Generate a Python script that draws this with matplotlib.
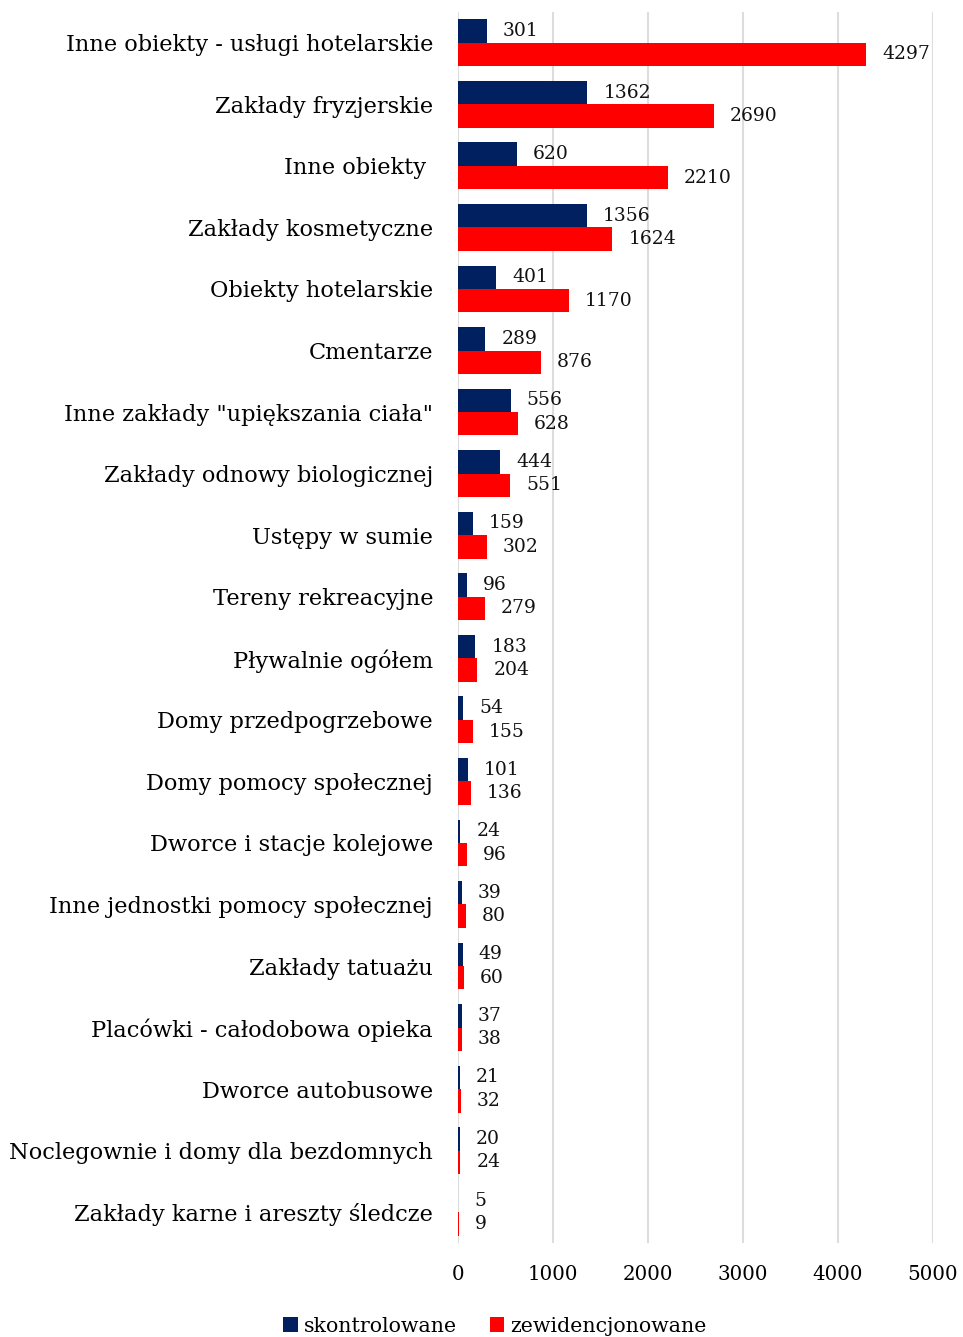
"""
Obiekty skontrolowane i zewidencjonowane - wykres slupkowy poziomy
"""

import numpy as np
import matplotlib.pyplot as plt

plt.rcParams['font.family'] = ['DejaVu Serif']

categories = [
    "Inne obiekty - usługi hotelarskie",
    "Zakłady fryzjerskie",
    "Inne obiekty ",
    "Zakłady kosmetyczne",
    "Obiekty hotelarskie",
    "Cmentarze",
    "Inne zakłady \"upiększania ciała\"",
    "Zakłady odnowy biologicznej",
    "Ustępy w sumie",
    "Tereny rekreacyjne",
    "Pływalnie ogółem",
    "Domy przedpogrzebowe",
    "Domy pomocy społecznej",
    "Dworce i stacje kolejowe",
    "Inne jednostki pomocy społecznej",
    "Zakłady tatuażu",
    "Placówki - całodobowa opieka",
    "Dworce autobusowe",
    "Noclegownie i domy dla bezdomnych",
    "Zakłady karne i areszty śledcze",
]
skontrolowane = [301, 1362, 620, 1356, 401, 289, 556, 444, 159, 96,
                 183, 54, 101, 24, 39, 49, 37, 21, 20, 5]
zewidencjonowane = [4297, 2690, 2210, 1624, 1170, 876, 628, 551, 302, 279,
                    204, 155, 136, 96, 80, 60, 38, 32, 24, 9]
xticks = [0, 1000, 2000, 3000, 4000, 5000]

blue = "#002060"
red = "#FF0000"

fig = plt.figure(figsize=(9.63, 13.37), dpi=100)
ax = fig.add_axes([458/963, 1 - 1243/1337, 475/963, 1231/1337])

y = np.arange(len(categories))
h = 0.38
ax.barh(y - h/2, skontrolowane, height=h, color=blue, label="skontrolowane", zorder=3)
ax.barh(y + h/2, zewidencjonowane, height=h, color=red, label="zewidencjonowane", zorder=3)

for yi, v in zip(y, skontrolowane):
    ax.annotate(str(v), (v, yi - h/2), xytext=(11.5, 0), textcoords="offset points",
                va="center", ha="left", fontsize=13.5, color="#111111")
for yi, v in zip(y, zewidencjonowane):
    ax.annotate(str(v), (v, yi + h/2), xytext=(11.5, 0), textcoords="offset points",
                va="center", ha="left", fontsize=13.5, color="#111111")

ax.set_xlim(0, 5000)
ax.set_ylim(len(categories) - 0.5, -0.5)
ax.set_xticks(xticks)
ax.set_xticklabels([str(t) for t in xticks], fontsize=14.3)
ax.set_yticks(y)
ax.set_yticklabels(categories, fontsize=16.2)
ax.tick_params(axis="y", length=0, pad=18)
ax.tick_params(axis="x", length=0, pad=16)
ax.grid(axis="x", color="#DDDDDD", linewidth=1.5, zorder=0)
for s in ax.spines.values():
    s.set_visible(False)

fig.legend(loc="center", bbox_to_anchor=(495/963, 1 - 1326/1337), ncol=2,
           frameon=False, fontsize=14.8, handlelength=0.7, handleheight=0.7,
           handletextpad=0.3, columnspacing=1.6)

plt.savefig("out.png", dpi=100)
